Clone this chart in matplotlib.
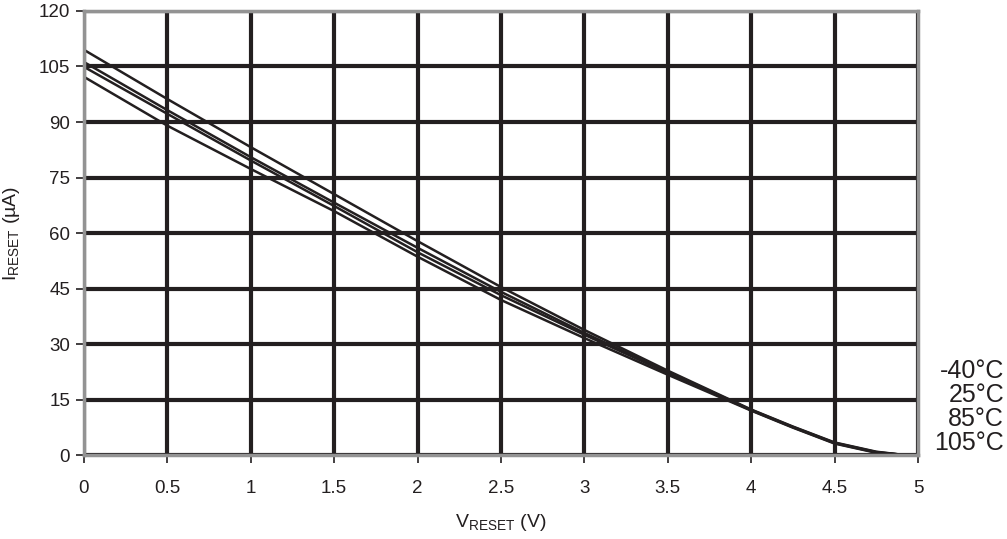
import matplotlib
matplotlib.use("Agg")
import matplotlib.pyplot as plt

plt.rcParams["font.family"] = ["Liberation Sans", "DejaVu Sans"]
plt.rcParams["mathtext.fontset"] = "custom"
plt.rcParams["mathtext.rm"] = "Liberation Sans"

# V_RESET sample points (V)
v_reset = [0, 0.5, 1, 1.5, 2, 2.5, 3, 3.5, 4, 4.25, 4.5, 4.75, 4.9, 5]
# I_RESET (uA) per temperature
i_m40 = [109.5, 96.2, 83.2, 70.5, 57.8, 45.4, 33.8, 22.8, 12.3, 7.7, 3.4, 0.9, 0.1, 0]
i_25 = [106.2, 93.2, 80.5, 68.2, 56.0, 44.1, 33.0, 22.5, 12.2, 7.6, 3.3, 0.8, 0.1, 0]
i_85 = [104.9, 92.2, 79.6, 67.3, 54.8, 43.2, 32.5, 22.2, 12.1, 7.5, 3.2, 0.7, 0.1, 0]
i_105 = [102.2, 89.0, 77.3, 65.9, 53.6, 41.9, 31.6, 21.7, 12.0, 7.4, 3.1, 0.6, 0.1, 0]
temps = ["-40°C", "25°C", "85°C", "105°C"]

x_ticks = [0, 0.5, 1, 1.5, 2, 2.5, 3, 3.5, 4, 4.5, 5]
y_ticks = [0, 15, 30, 45, 60, 75, 90, 105, 120]

fig = plt.figure(figsize=(10.07, 5.39), dpi=100)
ax = fig.add_axes([0.0834, 0.1558, 0.8282, 0.8238])

for series in (i_m40, i_25, i_85, i_105):
    ax.plot(v_reset, series, color="#231f20", linewidth=1.8, zorder=3)

ax.set_xlim(0, 5)
ax.set_ylim(0, 120)
ax.set_xticks(x_ticks)
ax.set_xticklabels([f"{t:g}" for t in x_ticks])
ax.set_yticks(y_ticks)
ax.grid(True, color="#231f20", linewidth=3.0, zorder=1)
ax.set_axisbelow(True)

for side in ("left", "right", "top", "bottom"):
    ax.spines[side].set_color("#939393")
    ax.spines[side].set_linewidth(2.5)
    ax.spines[side].set_zorder(4)

ax.tick_params(direction="out", length=6, width=1.2, color="#231f20",
               labelsize=13.5, labelcolor="#231f20", pad=4)
ax.tick_params(axis="x", pad=12)

ax.set_xlabel(r"V$_{\mathrm{RESET}}$ (V)", fontsize=14, color="#231f20", labelpad=11)
ax.set_ylabel(r"I$_{\mathrm{RESET}}$ (µA)", fontsize=14, color="#231f20", labelpad=12)

label_y = [371, 395, 419, 443]
for name, py in zip(temps, label_y):
    fig.text(1004 / 1007, 1 - py / 539, name, ha="right", va="center",
             fontsize=18, color="#231f20")

fig.savefig("out.png", dpi=100)
